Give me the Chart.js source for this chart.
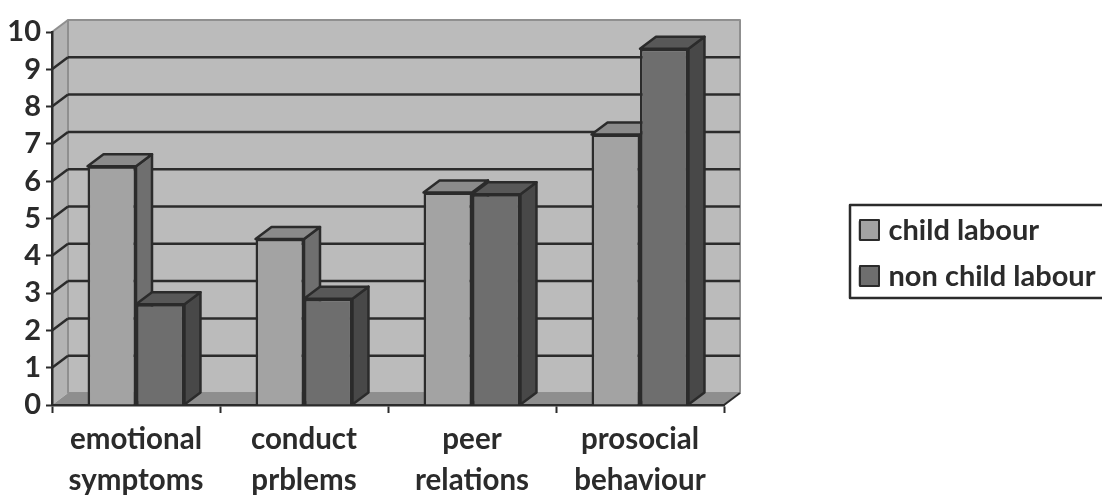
<!DOCTYPE html>
<html>
<head>
<meta charset="utf-8">
<style>html,body{margin:0;padding:0;background:#fff}#box{width:1102px;height:497px;overflow:hidden}</style>
<script src="https://cdn.jsdelivr.net/npm/chart.js@4"></script>
</head>
<body>
<div id="box"><canvas id="c" width="1102" height="497"></canvas></div>
<script>
const categories = [['emotional','symptoms'],['conduct','prblems'],['peer','relations'],['prosocial','behaviour']];
const childLabour = [6.4, 4.45, 5.7, 7.25];
const nonChildLabour = [2.7, 2.85, 5.65, 9.55];
const seriesNames = ['child labour', 'non child labour'];

const DX = 16, DY = 12;
const INK = '#2b2b2b';
const faces = [
  {front:'#a3a3a3', side:'#6f6f6f', top:'#8b8b8b'},
  {front:'#6e6e6e', side:'#484848', top:'#585858'}
];
function poly(ctx, pts, fill, stroke, lw){
  ctx.beginPath();
  pts.forEach((p,i)=> i?ctx.lineTo(p[0],p[1]):ctx.moveTo(p[0],p[1]));
  ctx.closePath();
  if(fill){ctx.fillStyle=fill;ctx.fill();}
  if(stroke){ctx.strokeStyle=stroke;ctx.lineWidth=lw;ctx.lineJoin='round';ctx.stroke();}
}
function seg(ctx,x1,y1,x2,y2,c,w){
  ctx.beginPath();ctx.moveTo(x1,y1);ctx.lineTo(x2,y2);ctx.strokeStyle=c;ctx.lineWidth=w;ctx.stroke();
}
function barFaces(ctx, meta, f){
  meta.data.forEach(el=>{
    const {x,y,width,base}=el.getProps(['x','y','width','base'],true);
    const L=x-width/2,R=x+width/2;
    poly(ctx,[[R,y],[R+DX,y-DY],[R+DX,base-DY],[R,base]],f.side,INK,2.5);
    poly(ctx,[[L,y],[L+DX,y-DY],[R+DX,y-DY],[R,y]],f.top,INK,2.5);
  });
}
const depth3d = {
  id:'depth3d',
  afterLayout(chart){
    const l = chart.legend;
    l.left = 843; l.right = 1102; l.top = 177; l.bottom = 330;
    l.width = l.right-l.left; l.height = l.bottom-l.top;
  },
  beforeDraw(chart){
    const ctx = chart.ctx, y = chart.scales.y, a = chart.chartArea;
    ctx.save();
    const t=a.top,b=a.bottom,lf=a.left,r=a.right;
    poly(ctx,[[lf+DX,t-DY],[r+DX,t-DY],[r+DX,b-DY],[lf+DX,b-DY]],'#bbbbbb','#8f8f8f',2);
    poly(ctx,[[lf,t],[lf+DX,t-DY],[lf+DX,b-DY],[lf,b]],'#b3b3b3');
    seg(ctx,lf+DX,t-DY,lf+DX,b-DY,'#8f8f8f',2);
    poly(ctx,[[lf,b],[lf+DX,b-DY],[r+DX,b-DY],[r,b]],'#8e8e8e');
    seg(ctx,r,b,r+DX,b-DY,INK,2);
    seg(ctx,lf,t,lf+DX,t-DY,'#8f8f8f',2);
    y.ticks.forEach(tk=>{
      if(tk.value===0||tk.value===10) return;
      const p=y.getPixelForValue(tk.value);
      seg(ctx,lf,p,lf+DX,p-DY,INK,2.5);
      seg(ctx,lf+DX,p-DY,r+DX,p-DY,INK,2.5);
    });
    ctx.strokeStyle=INK;ctx.lineWidth=2.5;
    ctx.strokeRect(850,205,270,93);
    ctx.restore();
  },
  beforeDatasetsDraw(chart){
    const ctx=chart.ctx;
    ctx.save();
    barFaces(ctx, chart.getDatasetMeta(0), faces[0]);
    ctx.restore();
  },
  beforeDatasetDraw(chart,args){
    if(args.index!==1) return;
    const ctx=chart.ctx;
    ctx.save();
    barFaces(ctx, args.meta, faces[1]);
    ctx.restore();
  },
  afterDraw(chart){
    const ctx=chart.ctx;
    ctx.save();
    faces.forEach((f,i)=>{
      poly(ctx,[[860,220+i*46],[879,220+i*46],[879,240+i*46],[860,240+i*46]],f.front,INK,2);
    });
    ctx.restore();
  }
};
const tickFont = {family:'Lato', size:29.5, weight:'bold', lineHeight:1.39};
new Chart(document.getElementById('c'),{
  type:'bar',
  data:{
    labels:categories,
    datasets:[
      {label:seriesNames[0],data:childLabour,backgroundColor:faces[0].front,borderColor:INK,borderWidth:2.5},
      {label:seriesNames[1],data:nonChildLabour,backgroundColor:faces[1].front,borderColor:INK,borderWidth:2.5}
    ]
  },
  options:{
    responsive:false,
    animation:false,
    layout:{padding:{left:0,top:32,right:378,bottom:0}},
    datasets:{bar:{categoryPercentage:0.577,barPercentage:1}},
    plugins:{
      title:{display:false},
      tooltip:{enabled:false},
      legend:{
        position:'chartArea',
        align:'center',
        labels:{boxWidth:14,boxHeight:16,padding:17,color:INK,font:{family:'Lato',size:29,weight:'bold'}}
      }
    },
    scales:{
      x:{
        grid:{drawOnChartArea:false,drawTicks:true,tickLength:8,tickColor:INK,tickWidth:2},
        border:{color:INK,width:2.5},
        ticks:{color:INK,font:tickFont,padding:6,maxRotation:0,autoSkip:false},
        afterFit(s){s.height=92;}
      },
      y:{
        min:0,max:10,
        grid:{drawOnChartArea:false,drawTicks:true,tickLength:6,tickColor:INK,tickWidth:2},
        border:{color:INK,width:2.5},
        ticks:{color:INK,stepSize:1,autoSkip:false,padding:5,font:{family:'Lato',size:29,weight:'bold'}},
        afterFit(s){s.width=52;}
      }
    }
  },
  plugins:[depth3d]
});
</script>
</body>
</html>
